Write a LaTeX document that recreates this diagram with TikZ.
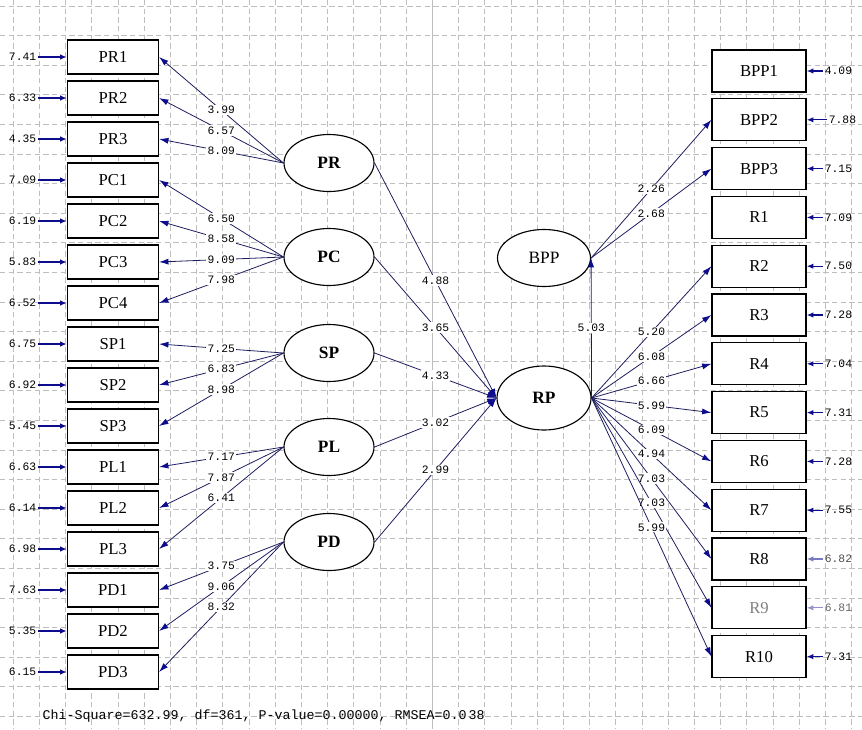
\documentclass[tikz,border=0pt]{standalone}
\usepackage{fontspec}
\setmainfont{Liberation Serif}
\newfontfamily\lisrelmono{Liberation Mono}
\usetikzlibrary{arrows.meta,shapes.geometric}

\definecolor{pathblue}{RGB}{30,30,95}
\definecolor{headblue}{RGB}{12,12,140}
\definecolor{gridgray}{RGB}{190,190,190}

\tikzset{every picture/.style={line width=0.75pt}}
\tikzset{
  obs/.style={draw, fill=white, line width=0.9pt, minimum width=68.25pt, minimum height=25.5pt, inner sep=0pt, font=\fontsize{12.5}{14}\selectfont},
  obsr/.style={obs, minimum width=70.5pt, minimum height=31.5pt},
  lat/.style={draw, fill=white, ellipse, line width=0.85pt, minimum width=67.5pt, minimum height=42.75pt, inner sep=0pt, font=\fontsize{13}{15}\selectfont\bfseries},
  load/.style={draw=pathblue, line width=0.6pt, -{Latex[length=7pt,width=4.5pt,color=headblue]}},
  coef/.style={fill=white, inner sep=1pt, font=\lisrelmono\fontsize{8.5}{10}\selectfont},
  errlbl/.style={inner sep=1pt, font=\lisrelmono\fontsize{8.5}{10}\selectfont},
  errarr/.style={draw=headblue, line width=1pt, -{Latex[length=5pt,width=4pt]}},
  gridline/.style={gridgray, line width=0.5pt, dash pattern=on 4pt off 2.5pt},
}

\begin{document}
\begin{tikzpicture}[x=0.75pt,y=0.75pt,yscale=-1,xscale=1]
\useasboundingbox (0,0) rectangle (862,729);

%Grid
\foreach \gx in {0,...,32} \draw[gridline] ({13.2+26.2*\gx},0) -- ({13.2+26.2*\gx},729);
\foreach \gy in {0,...,24} \draw[gridline] (0,{6+29.6*\gy}) -- (862,{6+29.6*\gy});
\draw[gridgray, line width=0.6pt] (432,0) -- (432,729);

% Text Node
\node[obs] (PR1) at (113,57) {PR1};
\node[obs] (PR2) at (113,98) {PR2};
\node[obs] (PR3) at (113,139) {PR3};
\node[obs] (PC1) at (113,180) {PC1};
\node[obs] (PC2) at (113,221) {PC2};
\node[obs] (PC3) at (113,262) {PC3};
\node[obs] (PC4) at (113,303) {PC4};
\node[obs] (SP1) at (113,344) {SP1};
\node[obs] (SP2) at (113,385) {SP2};
\node[obs] (SP3) at (113,426) {SP3};
\node[obs] (PL1) at (113,467) {PL1};
\node[obs] (PL2) at (113,508) {PL2};
\node[obs] (PL3) at (113,549) {PL3};
\node[obs] (PD1) at (113,590) {PD1};
\node[obs] (PD2) at (113,631) {PD2};
\node[obs] (PD3) at (113,672) {PD3};

% Text Node
\node[obsr] (BPP1) at (759,71) {BPP1};
\node[obsr] (BPP2) at (759,119.8) {BPP2};
\node[obsr] (BPP3) at (759,168.6) {BPP3};
\node[obsr] (R1) at (759,217.4) {R1};
\node[obsr] (R2) at (759,266.2) {R2};
\node[obsr] (R3) at (759,315) {R3};
\node[obsr] (R4) at (759,363.8) {R4};
\node[obsr] (R5) at (759,412.6) {R5};
\node[obsr] (R6) at (759,461.4) {R6};
\node[obsr] (R7) at (759,510.2) {R7};
\node[obsr] (R8) at (759,559) {R8};
\node[obsr, text=gray] (R9) at (759,607.8) {R9};
\node[obsr] (R10) at (759,656.6) {R10};

% Latent variables
\node[lat] (PR) at (329,163) {PR};
\node[lat] (PC) at (329,257) {PC};
\node[lat] (SP) at (329,353) {SP};
\node[lat] (PL) at (329,447) {PL};
\node[lat] (PD) at (329,542) {PD};
\node[lat, minimum width=70.5pt, minimum height=48pt] (RP) at (544,398) {RP};
\node[lat, minimum width=69.75pt, minimum height=42.75pt, font=\fontsize{13}{15}\selectfont] (BPP) at (544,258) {BPP};

% Error terms, left
\node[errlbl, anchor=east] (ePR1) at (38,57) {7.41};
\node[errlbl, anchor=east] (ePR2) at (38,98) {6.33};
\node[errlbl, anchor=east] (ePR3) at (38,139) {4.35};
\node[errlbl, anchor=east] (ePC1) at (38,180) {7.09};
\node[errlbl, anchor=east] (ePC2) at (38,221) {6.19};
\node[errlbl, anchor=east] (ePC3) at (38,262) {5.83};
\node[errlbl, anchor=east] (ePC4) at (38,303) {6.52};
\node[errlbl, anchor=east] (eSP1) at (38,344) {6.75};
\node[errlbl, anchor=east] (eSP2) at (38,385) {6.92};
\node[errlbl, anchor=east] (eSP3) at (38,426) {5.45};
\node[errlbl, anchor=east] (ePL1) at (38,467) {6.63};
\node[errlbl, anchor=east] (ePL2) at (38,508) {6.14};
\node[errlbl, anchor=east] (ePL3) at (38,549) {6.98};
\node[errlbl, anchor=east] (ePD1) at (38,590) {7.63};
\node[errlbl, anchor=east] (ePD2) at (38,631) {5.35};
\node[errlbl, anchor=east] (ePD3) at (38,672) {6.15};
\foreach \v in {PR1,PR2,PR3,PC1,PC2,PC3,PC4,SP1,SP2,SP3,PL1,PL2,PL3,PD1,PD2,PD3}
  \draw[errarr] (e\v) -- (\v);

% Error terms, right
\node[errlbl, anchor=west] (eBPP1) at (823,71) {4.09};
\node[errlbl, anchor=west] (eBPP2) at (827,119.8) {7.88};
\node[errlbl, anchor=west] (eBPP3) at (823,168.6) {7.15};
\node[errlbl, anchor=west] (eR1) at (823,217.4) {7.09};
\node[errlbl, anchor=west] (eR2) at (823,266.2) {7.50};
\node[errlbl, anchor=west] (eR3) at (823,315) {7.28};
\node[errlbl, anchor=west] (eR4) at (823,363.8) {7.04};
\node[errlbl, anchor=west] (eR5) at (823,412.6) {7.31};
\node[errlbl, anchor=west] (eR6) at (823,461.4) {7.28};
\node[errlbl, anchor=west] (eR7) at (823,510.2) {7.55};
\node[errlbl, anchor=west, text=black!70] (eR8) at (823,559) {6.82};
\node[errlbl, anchor=west, text=black!60] (eR9) at (823,607.8) {6.81};
\node[errlbl, anchor=west] (eR10) at (823,656.6) {7.31};
\foreach \v in {BPP1,BPP2,BPP3,R1,R2,R3,R4,R5,R6,R7,R10}
  \draw[errarr] (e\v) -- (\v);
\draw[errarr, draw=headblue!55] (eR8) -- (R8);
\draw[errarr, draw=headblue!45] (eR9) -- (R9);

% Loadings, left
\draw[load] (PR.west) -- node[coef]{3.99} (PR1.east);
\draw[load] (PR.west) -- node[coef]{6.57} (PR2.east);
\draw[load] (PR.west) -- node[coef]{8.09} (PR3.east);
\draw[load] (PC.west) -- node[coef]{6.50} (PC1.east);
\draw[load] (PC.west) -- node[coef]{8.58} (PC2.east);
\draw[load] (PC.west) -- node[coef]{9.09} (PC3.east);
\draw[load] (PC.west) -- node[coef]{7.98} (PC4.east);
\draw[load] (SP.west) -- node[coef]{7.25} (SP1.east);
\draw[load] (SP.west) -- node[coef]{6.83} (SP2.east);
\draw[load] (SP.west) -- node[coef]{8.98} (SP3.east);
\draw[load] (PL.west) -- node[coef]{7.17} (PL1.east);
\draw[load] (PL.west) -- node[coef]{7.87} (PL2.east);
\draw[load] (PL.west) -- node[coef]{6.41} (PL3.east);
\draw[load] (PD.west) -- node[coef]{3.75} (PD1.east);
\draw[load] (PD.west) -- node[coef]{9.06} (PD2.east);
\draw[load] (PD.west) -- node[coef]{8.32} (PD3.east);

% Structural paths
\draw[load] (PR.east) -- node[coef]{4.88} (RP.west);
\draw[load] (PC.east) -- node[coef]{3.65} (RP.west);
\draw[load] (SP.east) -- node[coef]{4.33} (RP.west);
\draw[load] (PL.east) -- node[coef]{3.02} (RP.west);
\draw[load] (PD.east) -- node[coef]{2.99} (RP.west);
\draw[load] (RP.east) -- node[coef]{5.03} (BPP.east);

% Loadings, right
\draw[load] (BPP.east) -- node[coef]{2.26} (BPP2.west);
\draw[load] (BPP.east) -- node[coef]{2.68} (BPP3.west);
\draw[load] (RP.east) -- node[coef]{5.20} (R2.west);
\draw[load] (RP.east) -- node[coef]{6.08} (R3.west);
\draw[load] (RP.east) -- node[coef]{6.66} (R4.west);
\draw[load] (RP.east) -- node[coef]{5.99} (R5.west);
\draw[load] (RP.east) -- node[coef]{6.09} (R6.west);
\draw[load] (RP.east) -- node[coef]{4.94} (R7.west);
\draw[load] (RP.east) -- node[coef]{7.03} (R8.west);
\draw[load] (RP.east) -- node[coef]{7.03} (R9.west);
\draw[load] (RP.east) -- node[coef]{5.99} (R10.west);

% Text Node
\node[anchor=west, inner sep=0pt, font=\lisrelmono\fontsize{10}{12}\selectfont] (fitline) at (42,716) {Chi-Square=632.99, df=361, P-value=0.00000, RMSEA=0.0\,38};

\end{tikzpicture}
\end{document}
